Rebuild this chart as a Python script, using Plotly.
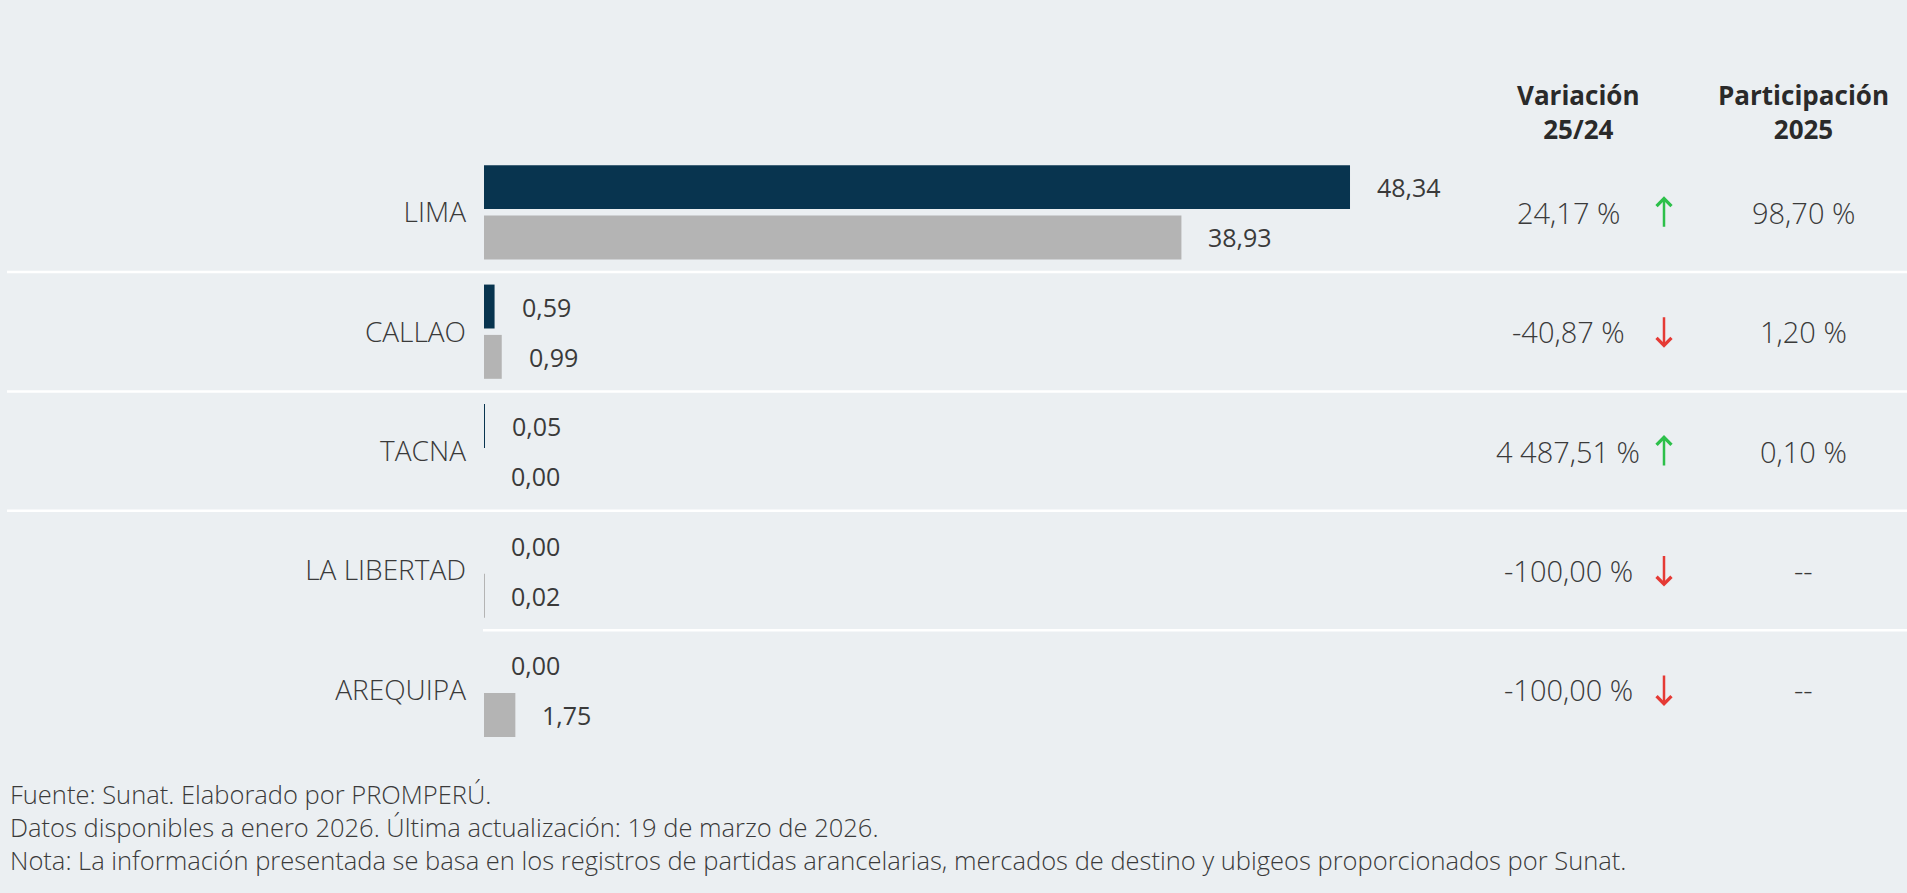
import plotly.graph_objects as go

# Exportaciones por región (millones de US$)
regiones = ["LIMA", "CALLAO", "TACNA", "LA LIBERTAD", "AREQUIPA"]
valores_2025 = [48.34, 0.59, 0.05, 0.00, 0.00]
valores_2024 = [38.93, 0.99, 0.00, 0.02, 1.75]
variacion = [24.17, -40.87, 4487.51, -100.00, -100.00]
participacion = [98.70, 1.20, 0.10, None, None]

encabezado_var = "Variación<br>25/24"
encabezado_part = "Participación<br>2025"
notas = [
    "Fuente: Sunat. Elaborado por PROMPERÚ.",
    "Datos disponibles a enero 2026. Última actualización: 19 de marzo de 2026.",
    "Nota: La información presentada se basa en los registros de partidas arancelarias, "
    "mercados de destino y ubigeos proporcionados por Sunat.",
]

W, H = 1907, 893
BG = "#ebeff2"
NAVY = "#08344f"
GRIS = "#b4b4b4"
TXT = "#3a3a3a"
VERDE = "#2cc04a"
ROJO = "#e53a35"
FONT = "Open Sans"


def fmt(v):
    s = f"{v:,.2f}"
    return s.replace(",", " ").replace(".", ",")


fig = go.Figure()
fig.add_trace(go.Bar(y=regiones, x=valores_2025, orientation="h", name="2025",
                     marker=dict(color=NAVY, line=dict(width=0)), hoverinfo="skip"))
fig.add_trace(go.Bar(y=regiones, x=valores_2024, orientation="h", name="2024",
                     marker=dict(color=GRIS, line=dict(width=0)), hoverinfo="skip"))

ann = []
# etiquetas de valor junto a cada barra
for serie, shift in ((valores_2025, 25), (valores_2024, -25)):
    for reg, v in zip(regiones, serie):
        ann.append(dict(x=v, y=reg, xref="x", yref="y", text=fmt(v), showarrow=False,
                        xanchor="left", yanchor="middle", xshift=25, yshift=shift,
                        font=dict(family=FONT, size=25, color=TXT)))

# columnas de variación y participación
X_VAR, X_FLECHA, X_PART = 1568 / W, 1664 / W, 1803 / W
for reg, var, part in zip(regiones, variacion, participacion):
    ann.append(dict(x=X_VAR, y=reg, xref="paper", yref="y", text=f"{fmt(var)} %",
                    showarrow=False, xanchor="center", yanchor="middle",
                    font=dict(family=FONT, size=29, color=TXT, weight=300)))
    sube = var >= 0
    ann.append(dict(x=X_FLECHA, y=reg, xref="paper", yref="y", text="",
                    showarrow=True, arrowhead=4, arrowsize=1.15, arrowwidth=2.5,
                    arrowcolor=VERDE if sube else ROJO, ax=0, ay=32 if sube else -32,
                    yshift=16 if sube else -16, standoff=0))
    ann.append(dict(x=X_PART, y=reg, xref="paper", yref="y",
                    text="--" if part is None else f"{fmt(part)} %",
                    showarrow=False, xanchor="center", yanchor="middle",
                    font=dict(family=FONT, size=29, color=TXT, weight=300)))

# encabezados
for xc, t in ((1578 / W, encabezado_var), (1803 / W, encabezado_part)):
    ann.append(dict(x=xc, y=1 - 111.5 / H, xref="paper", yref="paper", text=f"<b>{t}</b>",
                    showarrow=False, xanchor="center", yanchor="middle",
                    font=dict(family=FONT, size=26, color="#2a2a2a")))

# notas al pie
ann.append(dict(x=8 / W, y=1 - 827 / H, xref="paper", yref="paper", text="<br>".join(notas),
                showarrow=False, xanchor="left", yanchor="middle", align="left",
                font=dict(family=FONT, size=25.5, color=TXT, weight=300)))

# separadores entre regiones
shapes = []
for i in range(len(regiones) - 1):
    x0 = 7 / W if i < len(regiones) - 2 else 483 / W
    shapes.append(dict(type="line", xref="paper", yref="y", x0=x0, x1=1,
                       y0=i + 0.5, y1=i + 0.5, line=dict(color="white", width=2.5),
                       layer="below"))

x0px, x1px, px_por_unidad = 484, 1400, 17.915
fig.update_layout(
    width=W, height=H, autosize=False,
    margin=dict(l=0, r=0, t=0, b=0),
    paper_bgcolor=BG, plot_bgcolor=BG,
    barmode="group", bargap=0.157, bargroupgap=0.127,
    showlegend=False,
    annotations=ann, shapes=shapes,
    xaxis=dict(domain=[x0px / W, x1px / W], range=[0, (x1px - x0px) / px_por_unidad],
               showgrid=False, zeroline=False, showticklabels=False, fixedrange=True),
    yaxis=dict(domain=[(H - 749.6) / H, (H - 152.6) / H], type="category",
               autorange="reversed", showgrid=False, zeroline=False, ticks="",
               ticklabelstandoff=17, showline=False,
               tickfont=dict(family=FONT, size=28, color=TXT, weight=300),
               fixedrange=True),
)

fig.write_html("out.html")
